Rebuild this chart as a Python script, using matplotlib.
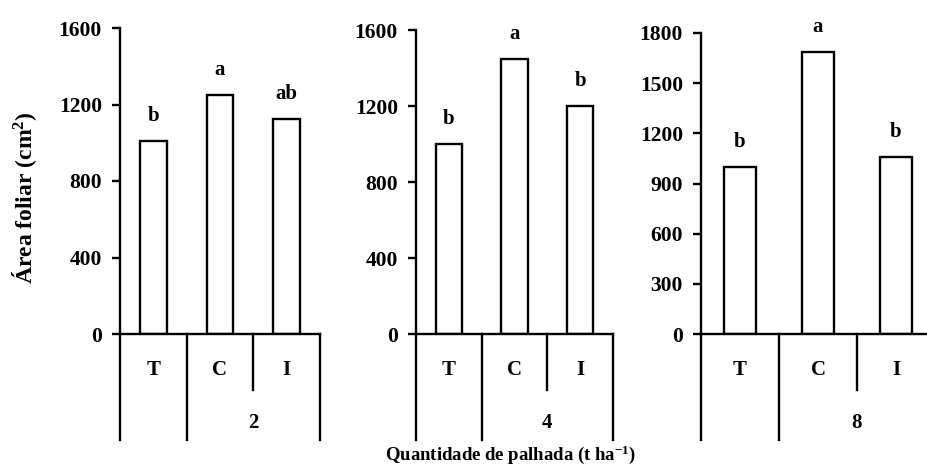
import matplotlib
matplotlib.use("Agg")
from matplotlib import pyplot as plt
from matplotlib.transforms import blended_transform_factory

plt.rcParams['font.family'] = ['Liberation Serif', 'DejaVu Serif']
plt.rcParams['font.weight'] = 'bold'
plt.rcParams['mathtext.fontset'] = 'custom'
plt.rcParams['mathtext.rm'] = 'Liberation Serif:bold'
plt.rcParams['mathtext.bf'] = 'Liberation Serif:bold'
plt.rcParams['mathtext.default'] = 'bf'

treatments = ['T', 'C', 'I']
doses = ['2', '4', '8']
area_2 = [1010, 1250, 1125]
area_4 = [1000, 1445, 1200]
area_8 = [1000, 1685, 1060]
letters_2 = ['b', 'a', 'ab']
letters_4 = ['b', 'a', 'b']
letters_8 = ['b', 'a', 'b']
yticks_2 = [0, 400, 800, 1200, 1600]
yticks_4 = [0, 400, 800, 1200, 1600]
yticks_8 = [0, 300, 600, 900, 1200, 1500, 1800]

W, H = 927, 466
fig = plt.figure(figsize=(W / 100, H / 100), dpi=100)

def fy(px):
    return 1 - px / H

# panel boxes in pixels: left, top, right
boxes = [(120, 28, 320), (416, 30, 613), (701, 33, 935)]
datasets = [(area_2, letters_2, yticks_2),
            (area_4, letters_4, yticks_4),
            (area_8, letters_8, yticks_8)]
bottom = 334
lw = 1.7
fs = 15

for i, ((l, t, r), (vals, lets, ticks)) in enumerate(zip(boxes, datasets)):
    ax = fig.add_axes([l / W, fy(bottom), (r - l) / W, (bottom - t) / H])
    x = list(range(len(treatments)))
    ax.bar(x, vals, width=0.4, color='white', edgecolor='black', linewidth=lw)
    ymax = ticks[-1]
    ax.set_xlim(-0.5, 2.5)
    ax.set_ylim(0, ymax)
    ax.set_yticks(ticks)
    ax.set_yticklabels([str(v) for v in ticks], fontsize=15.5, fontweight='bold')
    ax.set_xticks([])
    for s in ['top', 'right']:
        ax.spines[s].set_visible(False)
    for s in ['left', 'bottom']:
        ax.spines[s].set_linewidth(lw)
    ax.tick_params(axis='y', length=6, width=lw, pad=7)

    off = ymax * 25 / (bottom - t)
    for xi, v, lt in zip(x, vals, lets):
        ax.text(xi, v + off, lt, ha='center', va='center', fontsize=fs, fontweight='bold')

    tr = blended_transform_factory(ax.transData, fig.transFigure)
    # table lines under the axis
    for xl, ybot in [(-0.5, 440), (0.5, 440), (1.5, 390), (2.5, 440)]:
        ax.plot([xl, xl], [fy(bottom), fy(ybot)], color='black', lw=lw,
                transform=tr, clip_on=False)
    for xi, name in zip(x, treatments):
        ax.text(xi, fy(370), name, ha='center', va='center', fontsize=fs,
                fontweight='bold', transform=tr)
    ax.text(1.5, fy(423), doses[i], ha='center', va='center', fontsize=fs,
            fontweight='bold', transform=tr)

fig.text(25 / W, fy(198), 'Área foliar (cm$^{2}$)', rotation=90, ha='center',
         va='center', fontsize=17, fontweight='bold')
fig.text(511 / W, fy(455), 'Quantidade de palhada (t ha$^{-1}$)', ha='center',
         va='center', fontsize=13.5, fontweight='bold')

fig.savefig('out.png', dpi=100)
